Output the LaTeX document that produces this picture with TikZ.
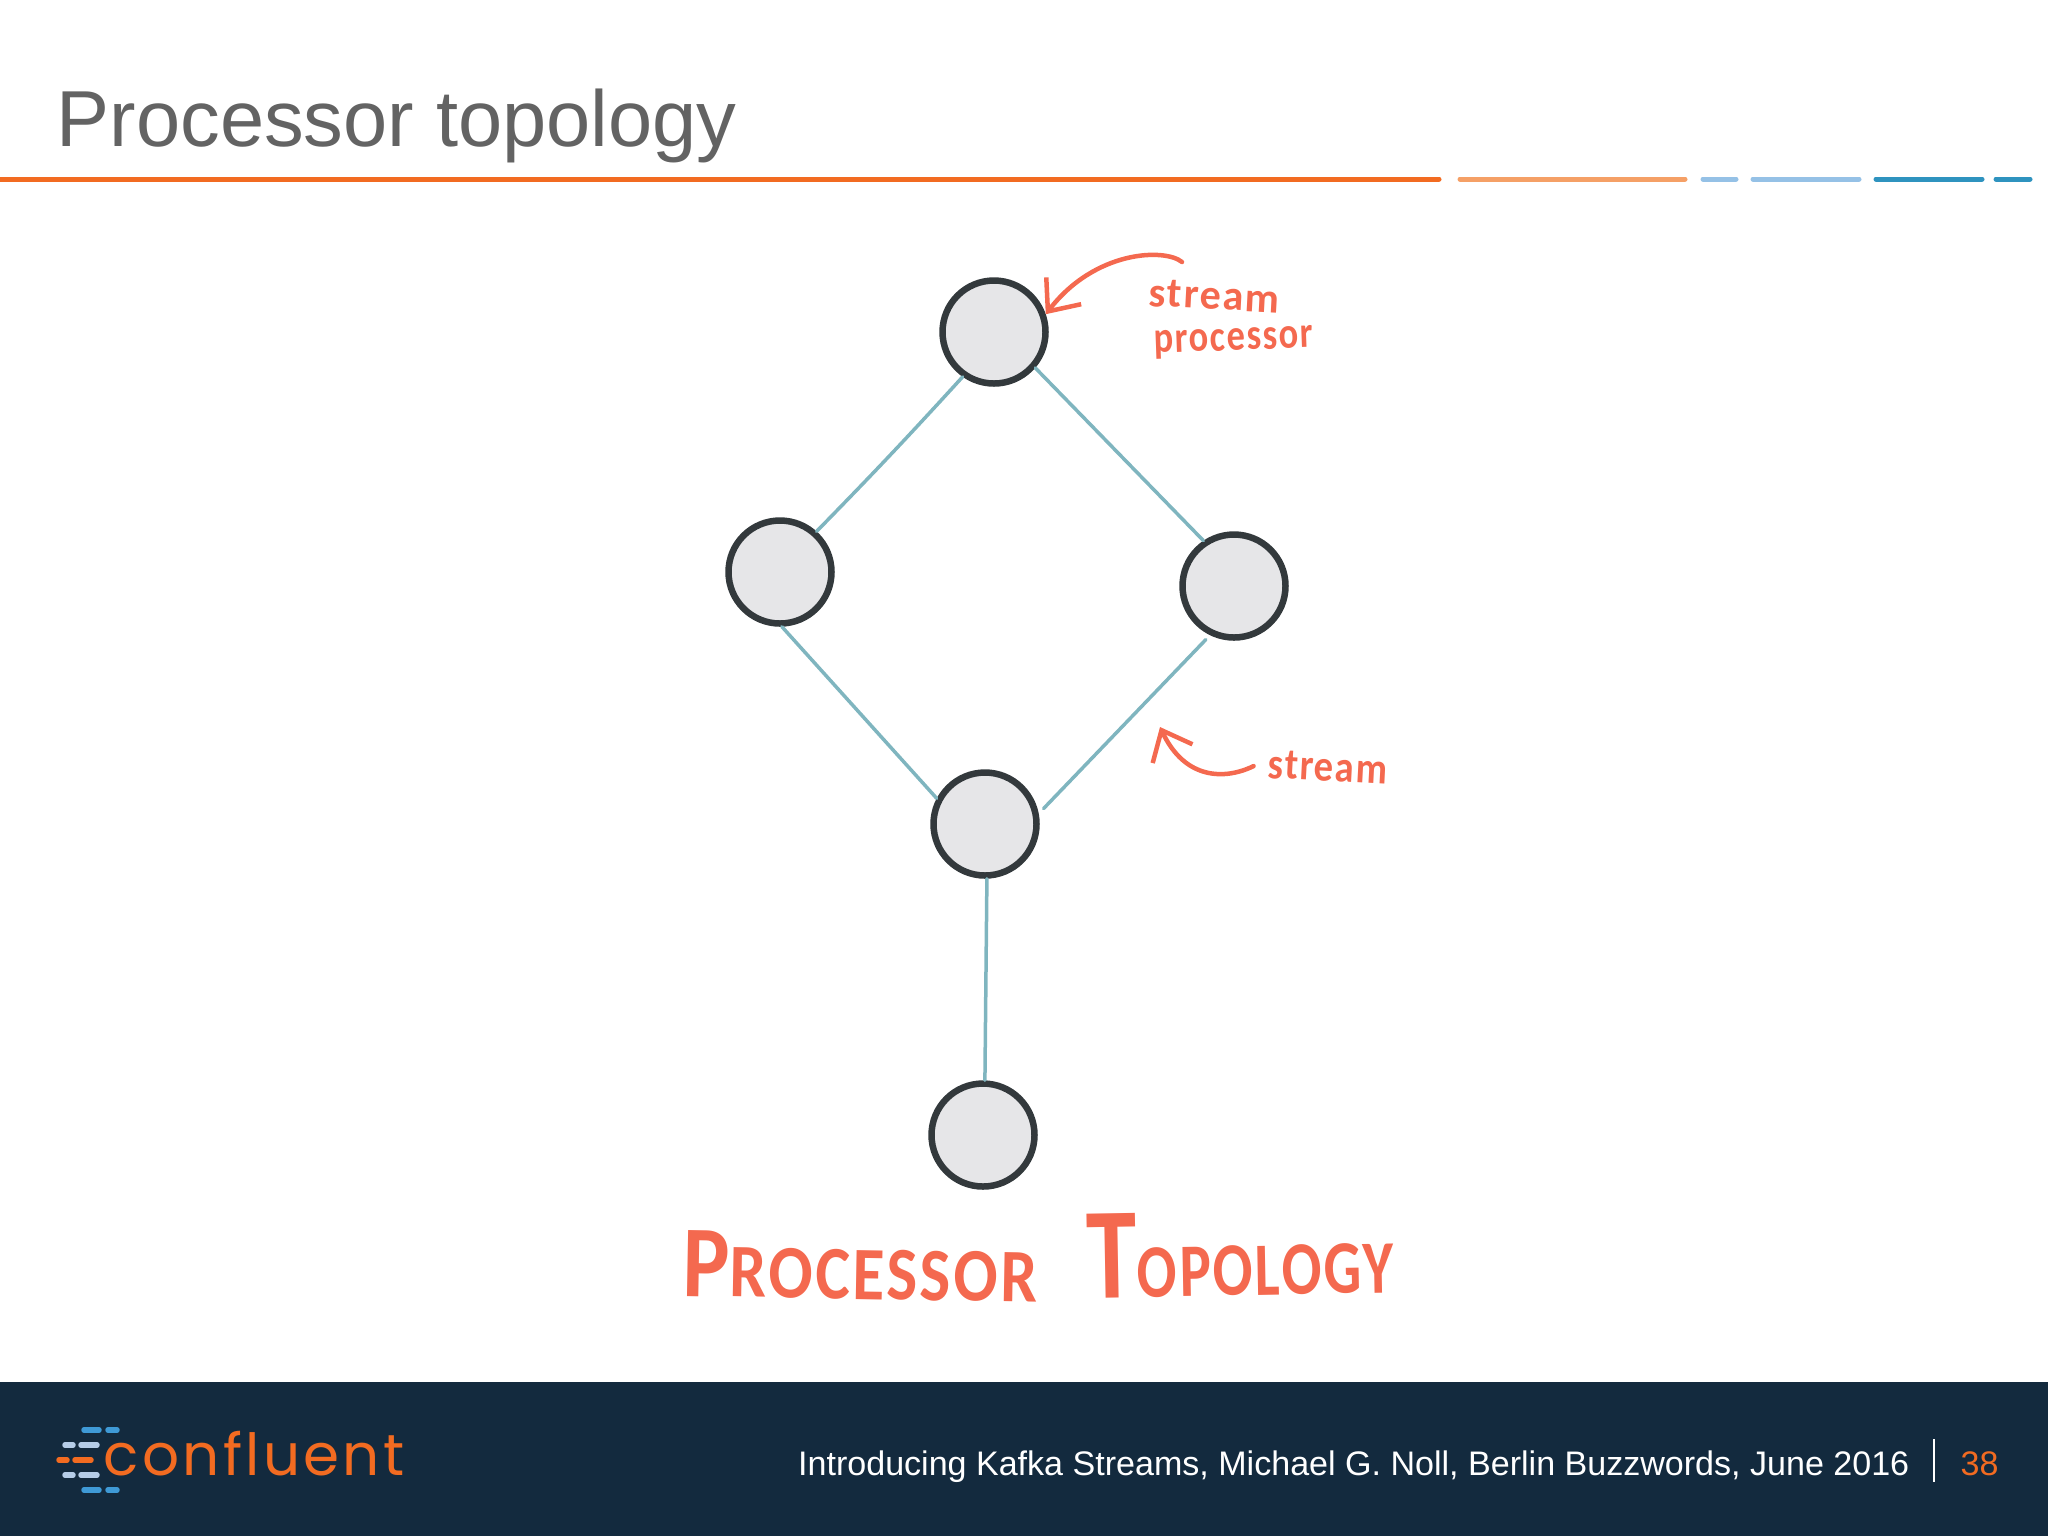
\documentclass[tikz,border=0pt]{standalone}
\usepackage{fontspec}
\setmainfont{Liberation Sans}
\newfontfamily\handfont[LetterSpace=4]{Carlito}
\newfontfamily\logofont[LetterSpace=5.7]{Poppins}
\usetikzlibrary{arrows.meta}
\definecolor{titlegrey}{HTML}{636363}
\definecolor{slideorange}{HTML}{F26B21}
\definecolor{slidepeach}{HTML}{F5A066}
\definecolor{slidesky}{HTML}{95C1E6}
\definecolor{slideblue}{HTML}{2F93BF}
\definecolor{footernavy}{HTML}{132A3E}
\definecolor{logoblue}{HTML}{3F9AD6}
\definecolor{logopale}{HTML}{B5CDE8}
\definecolor{streamteal}{HTML}{7FB5BF}
\definecolor{procfill}{HTML}{E6E6E8}
\definecolor{procline}{HTML}{33393C}
\definecolor{handred}{HTML}{F4694F}
\tikzset{
  processor/.style={draw=procline,fill=procfill,circle,line width=0.65mm,minimum size=10.3mm,inner sep=0pt},
  stream/.style={draw=streamteal,line width=0.35mm,line cap=round},
  rulepiece/.style={line width=0.5mm,line cap=round},
  hand/.style={handred,font=\handfont\bfseries\fontsize{12.5}{13}\selectfont,inner sep=0pt,anchor=base west},
  bighand/.style={hand,font=\handfont\bfseries\fontsize{21.5}{22}\selectfont},
  handarrow/.style={draw=handred,line width=0.45mm,line cap=round,-{Straight Barb[length=2.6mm,width=4.4mm,line width=0.45mm]}},
  logodash/.style={line width=0.55mm,line cap=round},
}
\newcommand{\bigletter}[2]{{\fontsize{#1}{#1}\selectfont #2}}
\begin{document}
\begin{tikzpicture}[x=0.1mm,y=-0.1mm]
  \useasboundingbox (0,0) rectangle (2048,1536);
  % title
  \node [anchor=base west,inner sep=0pt,titlegrey,font=\fontsize{22.6}{24}\selectfont]
    (title) at (56,146) {Processor topology};
  \draw [rulepiece,slideorange] (-5,179) -- (1439,179);
  \draw [rulepiece,slidepeach] (1460,179) -- (1685,179);
  \draw [rulepiece,slidesky] (1703,179) -- (1736,179);
  \draw [rulepiece,slidesky] (1753,179) -- (1859,179);
  \draw [rulepiece,slideblue] (1876,179) -- (1982,179);
  \draw [rulepiece,slideblue] (1996,179) -- (2030,179);
  % processors
  \node [processor] (proctop) at (994,332) {};
  \node [processor] (procleft) at (780,572) {};
  \node [processor] (procright) at (1234,586) {};
  \node [processor] (procmid) at (985,824) {};
  \node [processor] (procbottom) at (983,1135) {};
  % streams
  \draw [stream] (proctop.235) to [bend left=1] (procleft.48);
  \draw [stream] (proctop.-41) -- (procright.124);
  \draw [stream] (procleft.-88) -- (procmid.152);
  \draw [stream,shorten <=0.6mm,shorten >=0.7mm] (procright.-116) -- (procmid.11);
  \draw [stream] (procmid.-88) -- (procbottom.88);
  % labels
  \node [hand,rotate=-3,font=\handfont\bfseries\fontsize{12}{13}\selectfont] (labelstream) at (1148,306) {stream};
  \node [hand,rotate=2] (labelprocessor) at (1154,353) {\scalebox{0.83}[1]{processor}};
  \node [hand,rotate=-3] (labelarrow) at (1267,778) {\scalebox{0.88}[1]{stream}};
  \coordinate (proctail) at (1182,262);
  \coordinate (streamtip) at (1160,727);
  \draw [handarrow] (proctail)
    .. controls (1165,248) and (1095,250) .. (proctop.19);
  \draw [handarrow,shorten <=1.6mm] (labelarrow.175)
    .. controls (1225,780) and (1185,780) .. (streamtip);
  \node [bighand,rotate=-1] (labelproc) at (682,1296)
    {\scalebox{0.865}[1]{\bigletter{29}{P}ROCESSOR}};
  \node [bighand,rotate=1] (labeltop) at (1087,1298)
    {\scalebox{0.78}[1]{\bigletter{37}{T}OPOLOGY}};
  % footer
  \fill [footernavy] (0,1382) rectangle (2048,1536);
  \foreach \rowy/\dashcolor/\ax/\bx/\cx/\dx in {
    1430/logoblue/84/99/108/117,
    1445/logopale/65/73/81/97,
    1460/slideorange/59/67/75/91,
    1475/logopale/65/73/81/97,
    1490/logoblue/84/99/108/117}
  {
    \draw [logodash,\dashcolor] (\ax,\rowy) -- (\bx,\rowy);
    \draw [logodash,\dashcolor] (\cx,\rowy) -- (\dx,\rowy);
  }
  \node [anchor=base west,inner sep=0pt,slideorange,font=\logofont\fontsize{16.5}{17}\selectfont]
    (logo) at (103,1475) {confluent};
  \node [anchor=base east,inner sep=0pt,white,font=\fontsize{9.69}{11}\selectfont]
    (footertext) at (1910,1475) {Introducing Kafka Streams, Michael G. Noll, Berlin Buzzwords, June 2016};
  \draw [white,line width=0.2mm] (1934,1439) -- (1934,1482);
  \node [anchor=base west,inner sep=0pt,slideorange,font=\fontsize{9.69}{11}\selectfont]
    (pagenumber) at (1960,1475) {38};
\end{tikzpicture}
\end{document}
